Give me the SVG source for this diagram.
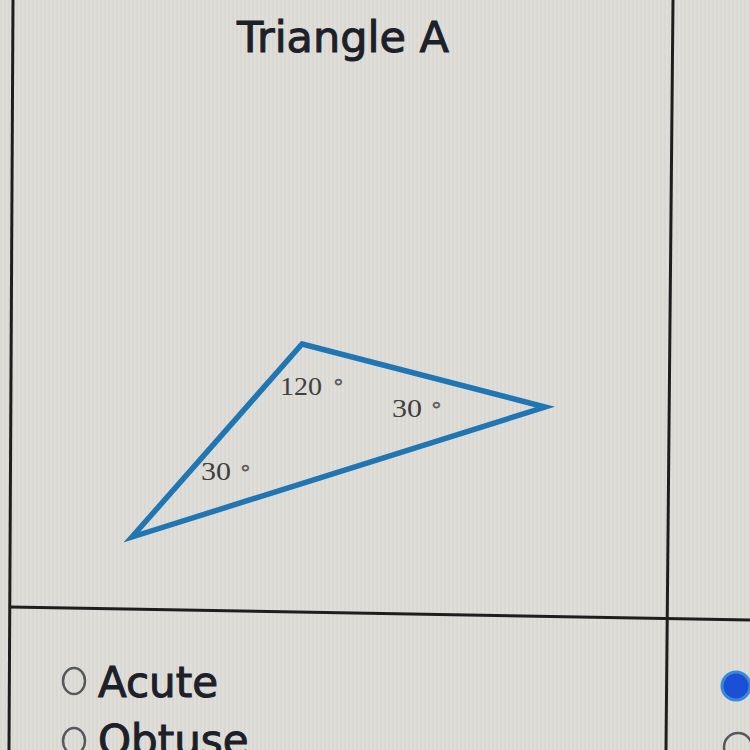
<svg xmlns="http://www.w3.org/2000/svg" width="750" height="750" viewBox="0 0 750 750">
<defs>
<pattern id="stripes" width="4" height="750" patternUnits="userSpaceOnUse">
<rect width="2" height="750" fill="#d2d0cb"/>
</pattern>
<style>
.grid{stroke:#1e1e1e;stroke-width:3;fill:none}
.ui{font-family:"DejaVu Sans",Verdana,sans-serif;fill:#1c2029;stroke:#1c2029;stroke-width:1}
.ang{font-family:"Liberation Serif","Times New Roman",serif;font-size:25px;fill:#3f3f3f}
.deg{font-family:"Liberation Serif",serif;font-size:22px;fill:#5a5a5a;stroke:#5a5a5a;stroke-width:0.6}
.radio{fill:none;stroke:#55585c;stroke-width:2.5}
</style>
</defs>
<rect width="750" height="750" fill="#e0ded9"/>
<rect width="750" height="750" fill="url(#stripes)" opacity="0.4"/>
<g id="grid">
<line class="grid" x1="13" y1="0" x2="9" y2="750"/>
<line class="grid" x1="673" y1="0" x2="666" y2="750"/>
<line class="grid" x1="10" y1="607" x2="750" y2="620"/>
</g>
<g id="title">
<text class="ui" x="343" y="52" font-size="43" text-anchor="middle">Triangle A</text>
</g>
<g id="triangle">
<polygon points="302,344 545,407 132,537" fill="none" stroke="#1f76b3" stroke-width="5.5" stroke-linejoin="miter"/>
</g>
<g id="labels">
<text class="ang" x="280" y="395" textLength="42" lengthAdjust="spacingAndGlyphs">120</text>
<text class="deg" x="334" y="393">°</text>
<text class="ang" x="392" y="417" textLength="30" lengthAdjust="spacingAndGlyphs">30</text>
<text class="deg" x="432" y="416">°</text>
<text class="ang" x="201" y="480" textLength="30" lengthAdjust="spacingAndGlyphs">30</text>
<text class="deg" x="241" y="479">°</text>
</g>
<g id="options">
<ellipse class="radio" cx="74" cy="681" rx="11" ry="13"/>
<text class="ui" x="98" y="697" font-size="42">Acute</text>
<ellipse class="radio" cx="74" cy="741" rx="11" ry="13"/>
<text class="ui" x="98" y="755" font-size="42">Obtuse</text>
<ellipse cx="736" cy="686" rx="14" ry="14" fill="#1a4fd6" stroke="#3a8ad8" stroke-width="3"/>
<ellipse class="radio" cx="738" cy="747" rx="14" ry="14"/>
</g>
</svg>
